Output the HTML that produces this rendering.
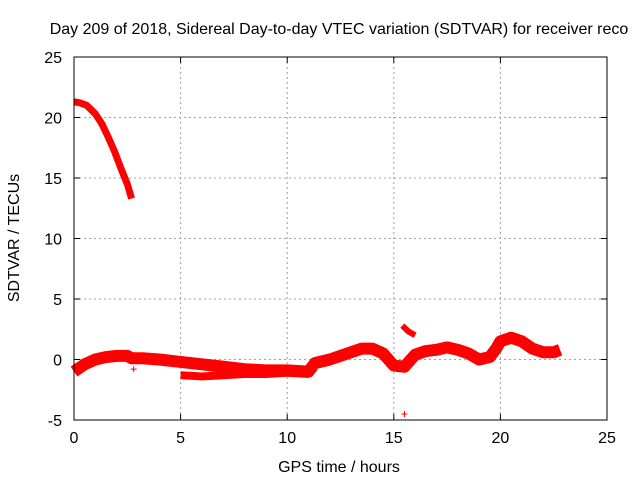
<!DOCTYPE html>
<html><head><meta charset="utf-8"><style>
body{margin:0;background:#fff}
svg{font-family:"Liberation Sans",sans-serif;font-size:16px}
</style></head><body>
<svg width="640" height="480">
<rect width="640" height="480" fill="#fff"/>
<text x="339" y="34" text-anchor="middle">Day 209 of 2018, Sidereal Day-to-day VTEC variation (SDTVAR) for receiver reco</text>
<g id="grid"></g><g id="data"></g><g id="axes"></g>
<text x="339" y="472" text-anchor="middle">GPS time / hours</text>
<text transform="translate(19,238) rotate(-90)" text-anchor="middle">SDTVAR / TECUs</text>
</svg>
<script>
const xTicks=[0,5,10,15,20,25];
const yTicks=[-5,0,5,10,15,20,25];
const upperH=[0,0.3,0.6,1,1.3,1.6,1.9,2.2,2.5,2.7];
const upperV=[21.3,21.2,21.0,20.3,19.5,18.4,17.2,15.8,14.5,13.3];
const lowerH=[0,0.5,1,1.5,2,2.5,2.7,3.2,4,5,6,7,8,9,10,11,11.3,12,13,13.5,14,14.5,15,15.5,16,16.5,17,17.5,18,18.5,19,19.5,19.8,20,20.5,21,21.5,22,22.5,22.8];
const lowerV=[-1.0,-0.4,0,0.2,0.3,0.3,0.1,0.1,0,-0.2,-0.4,-0.6,-0.8,-0.9,-0.9,-1.0,-0.3,0,0.6,0.9,0.9,0.5,-0.5,-0.6,0.4,0.7,0.8,1.0,0.8,0.5,0,0.2,0.9,1.5,1.8,1.5,0.9,0.6,0.6,0.8];
const lowBandH=[5,6,7,8,9,10,11];
const lowBandV=[-1.3,-1.4,-1.3,-1.2,-1.2,-1.1,-1.2];
const spurH=[15.4,15.7,16];
const spurV=[2.8,2.3,2.0];
const singleH=[2.8,15.5];
const singleV=[-0.8,-4.5];
const X=h=>74+h*21.32, Y=v=>359.5-v*12.1;
const NS="http://www.w3.org/2000/svg";
function mk(t,a,p){const e=document.createElementNS(NS,t);for(const k in a)e.setAttribute(k,a[k]);p.appendChild(e);return e;}
const grid=document.getElementById('grid'),axes=document.getElementById('axes'),data=document.getElementById('data');
mk('rect',{x:74,y:57,width:533,height:363,fill:'none',stroke:'#000','stroke-width':1},axes);
xTicks.forEach(t=>{const x=X(t);
 if(t>0&&t<25){const g=mk('line',{x1:x,x2:x,y1:57,y2:420,stroke:'#a0a0a0','stroke-dasharray':'2,3'},grid);}
 mk('line',{x1:x,x2:x,y1:420,y2:414,stroke:'#000'},axes);mk('line',{x1:x,x2:x,y1:57,y2:63,stroke:'#000'},axes);
 const tx=mk('text',{x:x,y:443,'text-anchor':'middle'},axes);tx.textContent=t;
 });
yTicks.forEach(t=>{const y=Y(t);
 if(t>-5&&t<25){const g=mk('line',{x1:74,x2:607,y1:y,y2:y,stroke:'#a0a0a0','stroke-dasharray':'2,3'},grid);}
 mk('line',{x1:74,x2:80,y1:y,y2:y,stroke:'#000'},axes);mk('line',{x1:607,x2:601,y1:y,y2:y,stroke:'#000'},axes);
 const tx=mk('text',{x:62,y:y+6,'text-anchor':'end'},axes);tx.textContent=t;
 });
function band(H,V,w,name){const pts=H.map((h,i)=>X(h)+','+Y(V[i])).join(' ');
 const p=mk('polyline',{points:pts,fill:'none',stroke:'#f00','stroke-width':w,'stroke-linejoin':'round','stroke-linecap':'butt'},data);
 }
band(upperH,upperV,7,'early-decay-series');
band(lowerH,lowerV,12,'main-series-band');
band(lowBandH,lowBandV,8,'lower-series-band');
band(spurH,spurV,6,'spur-series');
singleH.forEach((h,i)=>{const x=X(h),y=Y(singleV[i]);
 const p=mk('path',{d:`M${x-3},${y}h6M${x},${y-3}v6`,stroke:'#f00','stroke-width':1},data);
 });
</script>
</body></html>
